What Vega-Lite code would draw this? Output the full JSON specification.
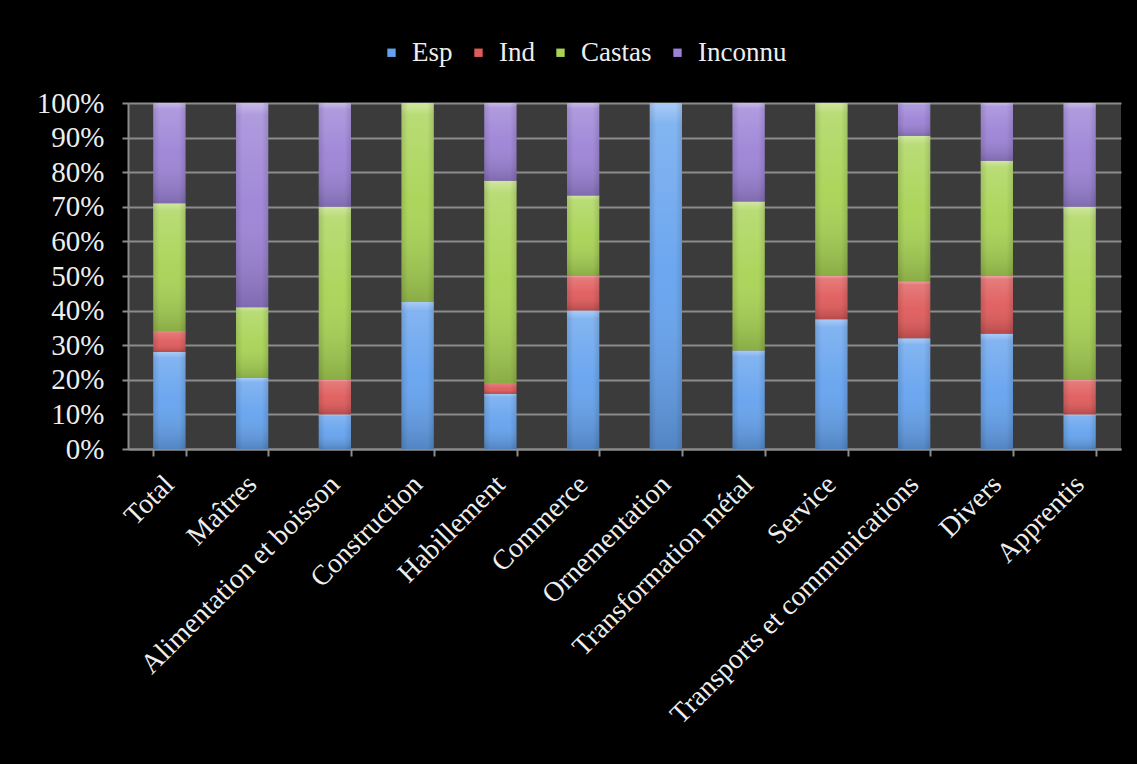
{
  "$schema": "https://vega.github.io/schema/vega-lite/v6.json",
  "width": 993,
  "height": 346,
  "autosize": {"type": "none"},
  "padding": {"left": 128, "top": 103, "right": 16, "bottom": 315},
  "background": "#000000",
  "config": {
    "view": {"fill": "#3b3b3b", "stroke": null},
    "font": "Liberation Serif"
  },
  "data": {
    "values": [
      {"cat": "Total", "s": "Esp", "k": 1, "v": 28},
      {"cat": "Total", "s": "Ind", "k": 2, "v": 6},
      {"cat": "Total", "s": "Castas", "k": 3, "v": 37},
      {"cat": "Total", "s": "Inconnu", "k": 4, "v": 29},
      {"cat": "Maîtres", "s": "Esp", "k": 1, "v": 20.5},
      {"cat": "Maîtres", "s": "Castas", "k": 3, "v": 20.5},
      {"cat": "Maîtres", "s": "Inconnu", "k": 4, "v": 59},
      {"cat": "Alimentation et boisson", "s": "Esp", "k": 1, "v": 10},
      {"cat": "Alimentation et boisson", "s": "Ind", "k": 2, "v": 10},
      {"cat": "Alimentation et boisson", "s": "Castas", "k": 3, "v": 50},
      {"cat": "Alimentation et boisson", "s": "Inconnu", "k": 4, "v": 30},
      {"cat": "Construction", "s": "Esp", "k": 1, "v": 42.5},
      {"cat": "Construction", "s": "Castas", "k": 3, "v": 57.5},
      {"cat": "Habillement", "s": "Esp", "k": 1, "v": 16},
      {"cat": "Habillement", "s": "Ind", "k": 2, "v": 3},
      {"cat": "Habillement", "s": "Castas", "k": 3, "v": 58.5},
      {"cat": "Habillement", "s": "Inconnu", "k": 4, "v": 22.5},
      {"cat": "Commerce", "s": "Esp", "k": 1, "v": 40},
      {"cat": "Commerce", "s": "Ind", "k": 2, "v": 10},
      {"cat": "Commerce", "s": "Castas", "k": 3, "v": 23.3},
      {"cat": "Commerce", "s": "Inconnu", "k": 4, "v": 26.7},
      {"cat": "Ornementation", "s": "Esp", "k": 1, "v": 100},
      {"cat": "Transformation métal", "s": "Esp", "k": 1, "v": 28.5},
      {"cat": "Transformation métal", "s": "Castas", "k": 3, "v": 43},
      {"cat": "Transformation métal", "s": "Inconnu", "k": 4, "v": 28.5},
      {"cat": "Service", "s": "Esp", "k": 1, "v": 37.5},
      {"cat": "Service", "s": "Ind", "k": 2, "v": 12.5},
      {"cat": "Service", "s": "Castas", "k": 3, "v": 50},
      {"cat": "Transports et communications", "s": "Esp", "k": 1, "v": 32},
      {"cat": "Transports et communications", "s": "Ind", "k": 2, "v": 16.5},
      {"cat": "Transports et communications", "s": "Castas", "k": 3, "v": 42},
      {"cat": "Transports et communications", "s": "Inconnu", "k": 4, "v": 9.5},
      {"cat": "Divers", "s": "Esp", "k": 1, "v": 33.3},
      {"cat": "Divers", "s": "Ind", "k": 2, "v": 16.7},
      {"cat": "Divers", "s": "Castas", "k": 3, "v": 33.3},
      {"cat": "Divers", "s": "Inconnu", "k": 4, "v": 16.7},
      {"cat": "Apprentis", "s": "Esp", "k": 1, "v": 10},
      {"cat": "Apprentis", "s": "Ind", "k": 2, "v": 10},
      {"cat": "Apprentis", "s": "Castas", "k": 3, "v": 50},
      {"cat": "Apprentis", "s": "Inconnu", "k": 4, "v": 30}
    ]
  },
  "transform": [
    {"stack": "v", "groupby": ["cat"], "sort": [{"field": "k", "order": "ascending"}], "offset": "normalize", "as": ["y0", "y1"]}
  ],
  "encoding": {
    "x": {
      "field": "cat",
      "type": "nominal",
      "sort": null,
      "scale": {"paddingInner": 0.61, "paddingOuter": 0.305},
      "axis": {
        "title": null,
        "tickBand": "extent",
        "labelAngle": -45,
        "labelAlign": "right",
        "labelBaseline": "middle",
        "labelFontSize": 28,
        "labelColor": "#eeeeee",
        "labelPadding": 24,
        "labelLimit": 0,
        "tickSize": 7,
        "tickColor": "#8c8c8c",
        "tickWidth": 2,
        "domainColor": "#8c8c8c",
        "domainWidth": 2,
        "grid": false
      }
    },
    "y": {
      "field": "y0",
      "type": "quantitative",
      "scale": {"domain": [0, 1], "nice": false},
      "axis": {
        "title": null,
        "values": [0, 0.1, 0.2, 0.3, 0.4, 0.5, 0.6, 0.7, 0.8, 0.9, 1],
        "format": ".0%",
        "labelFontSize": 29,
        "labelColor": "#eeeeee",
        "labelPadding": 18,
        "tickSize": 6,
        "tickColor": "#8c8c8c",
        "tickWidth": 2,
        "domainColor": "#8c8c8c",
        "domainWidth": 2,
        "grid": true,
        "gridColor": "#8c8c8c",
        "gridWidth": 2
      }
    },
    "y2": {"field": "y1"}
  },
  "layer": [
    {
      "mark": {"type": "bar"},
      "encoding": {
        "color": {
          "field": "s",
          "type": "nominal",
          "scale": {
            "domain": ["Esp", "Ind", "Castas", "Inconnu"],
            "range": ["#64a2ee", "#e05a5a", "#a8d354", "#9c82d6"]
          },
          "legend": {
            "title": null,
            "orient": "none",
            "direction": "horizontal",
            "legendX": 250,
            "legendY": -64,
            "symbolType": "square",
            "symbolSize": 70,
            "symbolStrokeWidth": 0,
            "labelFontSize": 27,
            "labelColor": "#eeeeee",
            "labelOffset": 7,
            "columnPadding": 12
          }
        }
      }
    },
    {
      "mark": {
        "type": "bar",
        "fill": {
          "gradient": "linear",
          "x1": 0, "y1": 0, "x2": 0, "y2": 1,
          "stops": [
            {"offset": 0, "color": "rgba(255,255,255,0.45)"},
            {"offset": 0.06, "color": "rgba(255,255,255,0.2)"},
            {"offset": 0.5, "color": "rgba(255,255,255,0.05)"},
            {"offset": 1, "color": "rgba(0,0,0,0.18)"}
          ]
        }
      },
      "encoding": {}
    },
    {
      "mark": {
        "type": "bar",
        "fill": {
          "gradient": "linear",
          "x1": 0, "y1": 0, "x2": 1, "y2": 0,
          "stops": [
            {"offset": 0, "color": "rgba(0,0,0,0.12)"},
            {"offset": 0.2, "color": "rgba(0,0,0,0)"},
            {"offset": 0.8, "color": "rgba(0,0,0,0)"},
            {"offset": 1, "color": "rgba(0,0,0,0.12)"}
          ]
        }
      },
      "encoding": {}
    }
  ]
}
